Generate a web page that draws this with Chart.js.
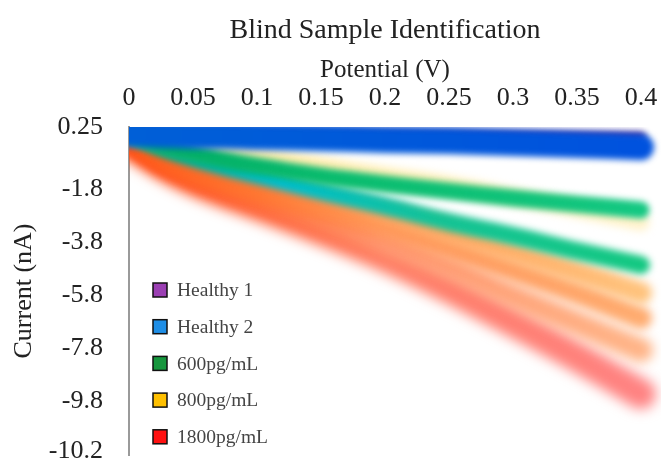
<!DOCTYPE html>
<html><head><meta charset="utf-8">
<script src="https://cdn.jsdelivr.net/npm/chart.js@4.4.1/dist/chart.umd.min.js"></script>
<style>html,body{margin:0;padding:0;background:#fff}#wrap{width:662px;height:460px}</style>
</head><body><div id="wrap"><canvas id="c" width="662" height="460"></canvas></div>
<script>
// ---- data ----
const potential = [0, 0.025, 0.05, 0.075, 0.1, 0.15, 0.2, 0.25, 0.3, 0.35, 0.4];
const healthy1 = [0.35, 0.33, 0.31, 0.30, 0.29, 0.27, 0.25, 0.23, 0.21, 0.19, 0.17];
const healthy2 = [0.28, 0.24, 0.20, 0.20, 0.16, 0.12, 0.05, 0.01, -0.06, -0.14, -0.22];
const pg600a = [0.31, -0.14, -0.44, -0.71, -0.93, -1.31, -1.61, -1.88, -2.14, -2.37, -2.59];
const pg600b = [0.31, -0.22, -0.63, -0.97, -1.27, -1.88, -2.44, -3.05, -3.57, -4.14, -4.67];
const pg800a = [0.31, 0.05, -0.18, -0.37, -0.55, -0.93, -1.31, -1.65, -2.10, -2.55, -3.05];
const pg800b = [0.20, -0.55, -1.01, -1.35, -1.65, -2.22, -2.78, -3.46, -4.18, -4.93, -5.72];
const pg800c = [0.16, -0.63, -1.16, -1.54, -1.91, -2.59, -3.27, -4.03, -4.86, -5.72, -6.67];
const pg1800a = [0.12, -0.71, -1.27, -1.72, -2.14, -2.97, -3.84, -4.78, -5.84, -6.86, -7.88];
const pg1800b = [-0.03, -0.82, -1.46, -1.95, -2.40, -3.35, -4.37, -5.54, -6.82, -8.14, -9.54];
const xTickLabels = ['0', '0.05', '0.1', '0.15', '0.2', '0.25', '0.3', '0.35', '0.4'];
const yTickValues = [0.54, -1.8, -3.8, -5.8, -7.8, -9.8, -11.7];
const yTickLabels = ['0.25', '-1.8', '-3.8', '-5.8', '-7.8', '-9.8', '-10.2'];
const legendNames = ['Healthy 1', 'Healthy 2', '600pg/mL', '800pg/mL', '1800pg/mL'];

// ---- styles ----
const legendColors = ['#9b3fb3', '#1e8ee6', '#16963d', '#ffc000', '#ff1010'];
const SERIF = "'Liberation Serif', 'Times New Roman', serif";
function grad(stops) {
  return (c) => {
    const a = c.chart.chartArea;
    if (!a) return stops[0][1];
    const g = c.chart.ctx.createLinearGradient(a.left, 0, a.right, 0);
    stops.forEach(([o, col]) => g.addColorStop(o, col));
    return g;
  };
}
const pts = (arr) => arr.map((v, i) => ({x: potential[i], y: v}));
function band(label, arr, color, width, blur) {
  return {
    label, data: pts(arr), borderColor: color, borderWidth: width, blurPx: blur,
    pointRadius: 0, fill: false, tension: 0.35, borderCapStyle: 'round', borderJoinStyle: 'round',
    clip: {left: 0, top: 0, right: 20, bottom: 0}
  };
}

const datasets = [
  band('Healthy 2', healthy2, grad([[0, 'rgb(0,95,215)'], [1, 'rgb(0,82,222)']]), 26, 3),
  band('Healthy 1', healthy1, 'rgb(70,40,150)', 10, 3),
  band('600pg/mL', pg600a, grad([[0, 'rgb(0,170,100)'], [0.4, 'rgb(10,188,110)'], [1, 'rgb(20,200,130)']]), 17, 3),
  band('800pg/mL', pg800a, grad([[0, 'rgba(255,234,165,0.7)'], [0.3, 'rgb(255,236,170)'], [0.7, 'rgba(255,236,175,0.9)'], [1, 'rgba(255,236,178,0.7)']]), 17, 4),
  band('600pg/mL', pg600b, grad([[0, 'rgb(0,170,130)'], [0.3, 'rgb(0,190,205)'], [0.6, 'rgb(20,195,150)'], [1, 'rgb(20,200,130)']]), 18, 3.5),
  band('800pg/mL', pg800b, grad([[0, 'rgb(255,90,25)'], [0.25, 'rgb(255,120,50)'], [0.5, 'rgb(255,160,90)'], [1, 'rgb(255,195,125)']]), 22, 5),
  band('800pg/mL', pg800c, grad([[0, 'rgb(255,85,25)'], [0.25, 'rgb(255,115,50)'], [0.5, 'rgb(255,150,90)'], [1, 'rgb(255,172,112)']]), 22, 5),
  band('1800pg/mL', pg1800a, grad([[0, 'rgb(255,80,25)'], [0.25, 'rgb(255,110,60)'], [0.5, 'rgb(255,150,110)'], [1, 'rgb(255,180,135)']]), 24, 6),
  band('1800pg/mL', pg1800b, grad([[0, 'rgb(255,75,20)'], [0.25, 'rgb(255,100,60)'], [0.5, 'rgb(255,125,100)'], [1, 'rgb(255,130,130)']]), 30, 6.5)
];

const blurPlugin = {
  id: 'blurBands',
  beforeDatasetDraw(chart, args) {
    chart.ctx.save();
    chart.ctx.filter = 'blur(' + (chart.data.datasets[args.index].blurPx || 4) + 'px)';
  },
  afterDatasetDraw(chart) { chart.ctx.restore(); }
};
const boxLegend = {
  id: 'boxLegend',
  afterDraw(chart) {
    const ctx = chart.ctx, a = chart.chartArea;
    ctx.save();
    ctx.font = "19.5px " + SERIF;
    ctx.textBaseline = 'middle';
    ctx.textAlign = 'left';
    legendNames.forEach((name, i) => {
      const cy = a.bottom - 165 + i * 36.7;
      const bx = a.left + 24;
      ctx.fillStyle = legendColors[i];
      ctx.fillRect(bx, cy - 7, 14, 14);
      ctx.lineWidth = 1.5;
      ctx.strokeStyle = '#111';
      ctx.strokeRect(bx, cy - 7, 14, 14);
      ctx.fillStyle = '#444';
      ctx.fillText(name, bx + 24, cy + 1);
    });
    ctx.restore();
  }
};

new Chart(document.getElementById('c'), {
  type: 'line',
  data: {datasets},
  plugins: [blurPlugin, boxLegend],
  options: {
    responsive: false, animation: false,
    layout: {padding: {left: 0, right: 21, top: 0, bottom: 5}},
    plugins: {
      tooltip: {enabled: false},
      legend: {display: false},
      title: {display: true, text: 'Blind Sample Identification', color: '#222', fullSize: false,
        font: {family: SERIF, size: 28, weight: 'normal'}, padding: {top: 14, bottom: 0}}
    },
    scales: {
      x: {
        type: 'linear', position: 'top', min: 0, max: 0.4,
        grid: {display: false, drawTicks: false},
        border: {display: false},
        ticks: {stepSize: 0.05, padding: 13, color: '#222', font: {family: SERIF, size: 26},
          callback: (v, i) => xTickLabels[i]},
        title: {display: true, text: 'Potential (V)', color: '#222',
          font: {family: SERIF, size: 25}, padding: {top: 8, bottom: 0}},
        afterFit: (s) => { s.height = 79.4; s.paddingLeft = 0; s.paddingRight = 0; }
      },
      y: {
        type: 'linear', min: -11.84, max: 0.54,
        afterBuildTicks: (s) => { s.ticks = yTickValues.map(v => ({value: v})); },
        grid: {display: false, drawTicks: false},
        border: {display: true, color: '#9a9a9a', width: 2},
        ticks: {padding: 26, color: '#222', font: {family: SERIF, size: 26},
          callback: (v, i) => yTickLabels[i]},
        title: {display: true, text: 'Current (nA)', color: '#222',
          font: {family: SERIF, size: 26}, padding: {top: 9, bottom: 0}},
        afterFit: (s) => { s.width = 129; s.paddingTop = 0; s.paddingBottom = 0; }
      }
    }
  }
});
</script></body></html>
